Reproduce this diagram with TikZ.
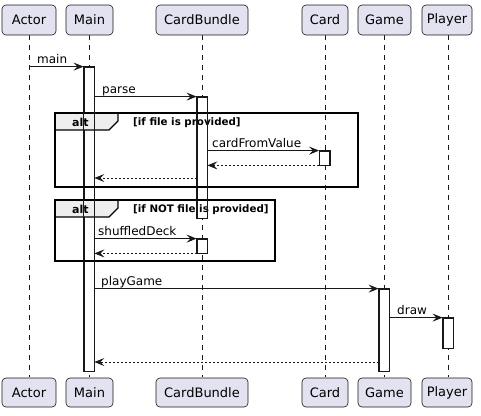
\documentclass[tikz,border=0pt]{standalone}
\usepackage{fontspec}
\setmainfont{DejaVu Sans}
\usetikzlibrary{arrows.meta}
\definecolor{partfill}{HTML}{E2E2F0}
\definecolor{partline}{HTML}{181818}
\definecolor{tabfill}{HTML}{EEEEEE}
\begin{document}
\begin{tikzpicture}[x=1pt,y=-1pt,
  part/.style={draw=partline, fill=partfill, rounded corners=4pt, line width=0.6pt, minimum height=30pt, inner sep=0pt, font=\fontsize{13}{15}\selectfont},
  life/.style={draw=partline, line width=0.5pt, dash pattern=on 5pt off 5pt},
  actbox/.style={draw=partline, fill=white, line width=0.8pt, minimum width=10pt, inner sep=0pt},
  actline/.style={draw=partline, line width=0.8pt},
  msg/.style={draw=partline, line width=0.8pt, -{Stealth[length=10pt,width=8pt,inset=4pt]}},
  ret/.style={msg, dash pattern=on 2pt off 2pt},
  lbl/.style={font=\fontsize{12}{14}\selectfont, inner sep=0pt, anchor=base west},
  frm/.style={draw=black, line width=1.4pt},
  tabs/.style={draw=black, fill=tabfill, line width=1.1pt},
  altlbl/.style={font=\bfseries\fontsize{11}{13}\selectfont, inner sep=0pt, anchor=base west},
  cond/.style={font=\bfseries\fontsize{10.3}{12}\selectfont, inner sep=0pt, anchor=base west}
]
\useasboundingbox (0,0) rectangle (481,415);
% lifelines
\foreach \n/\x in {actor/29,main/89,cb/202,card/325,game/384,player/448}{
  \coordinate (\n T) at (\x,35);
  \coordinate (\n B) at (\x,377);
  \draw[life] (\n T) -- (\n B);
}
% participants
\node[part, minimum width=54pt] (actorH) at (29,20) {Actor};
\node[part, minimum width=47pt] (mainH) at (89.5,20) {Main};
\node[part, minimum width=92pt] (cbH) at (202,20) {CardBundle};
\node[part, minimum width=46pt] (cardH) at (325,20) {Card};
\node[part, minimum width=53pt] (gameH) at (384.5,20) {Game};
\node[part, minimum width=50pt] (playerH) at (447,20) {Player};
\node[part, minimum width=54pt, minimum height=29pt] (actorF) at (29,392.5) {Actor};
\node[part, minimum width=47pt, minimum height=29pt] (mainF) at (89.5,392.5) {Main};
\node[part, minimum width=92pt, minimum height=29pt] (cbF) at (202,392.5) {CardBundle};
\node[part, minimum width=46pt, minimum height=29pt] (cardF) at (325,392.5) {Card};
\node[part, minimum width=53pt, minimum height=29pt] (gameF) at (384.5,392.5) {Game};
\node[part, minimum width=50pt, minimum height=29pt] (playerF) at (447,392.5) {Player};
% activations
\node[actbox, minimum height=304pt] (mainA) at (89,219) {};
\node[actbox, minimum height=121pt] (cbA1) at (202,157.5) {};
\node[actbox, minimum height=14pt] (cardA) at (324.5,158) {};
\node[actbox, minimum height=14pt] (cbA2) at (202,246) {};
\node[actbox, minimum height=82pt] (gameA) at (384,330) {};
\node[actbox, minimum height=30pt] (playerA) at (448,333) {};
% frame 1
\draw[tabs] (55,113) -- (118,113) -- (118,121) -- (109,130) -- (55,130) -- cycle;
\draw[frm] (55,113) rectangle (358,187);
\node[altlbl] (alt1) at (72,126) {alt};
\node[cond] (cond1) at (133,125) {[if file is provided]};
% frame 2
\draw[tabs] (55,200) -- (118,200) -- (118,208) -- (109,217) -- (55,217) -- cycle;
\draw[frm] (55,200) rectangle (275,261);
\node[altlbl] (alt2) at (72,213) {alt};
\node[cond] (cond2) at (133,212) {[if NOT file is provided]};
% activation outlines over frames
\foreach \a in {mainA,cbA1,cbA2,cardA,gameA,playerA}{
  \draw[actline] (\a.north west) rectangle (\a.south east);
}
% messages
\draw[msg] (actorT |- mainA.north) -- (mainA.north west);
\node[lbl] (l1) at (37,63) {main};
\draw[msg] (mainA.east |- cbA1.north) -- (cbA1.north west);
\node[lbl] (l2) at (102,93) {parse};
\draw[msg] (cbA1.east |- cardA.north) -- (cardA.north west);
\node[lbl] (l3) at (212,147) {cardFromValue};
\draw[ret] (cardA.south west) -- (cbA1.east |- cardA.south);
\coordinate (r2) at (0,178);
\draw[ret] (cbA1.west |- r2) -- (mainA.east |- r2);
\draw[msg] (mainA.east |- cbA2.north) -- (cbA2.north west);
\node[lbl] (l4) at (98,235) {shuffledDeck};
\draw[ret] (cbA2.south west) -- (mainA.east |- cbA2.south);
\draw[msg] (mainA.east |- gameA.north) -- (gameA.north west);
\node[lbl] (l5) at (101,285) {playGame};
\draw[msg] (gameA.east |- playerA.north) -- (playerA.north west);
\node[lbl] (l6) at (397,314) {draw};
\coordinate (r4) at (0,362);
\draw[ret] (gameA.west |- r4) -- (mainA.east |- r4);
\end{tikzpicture}
\end{document}
